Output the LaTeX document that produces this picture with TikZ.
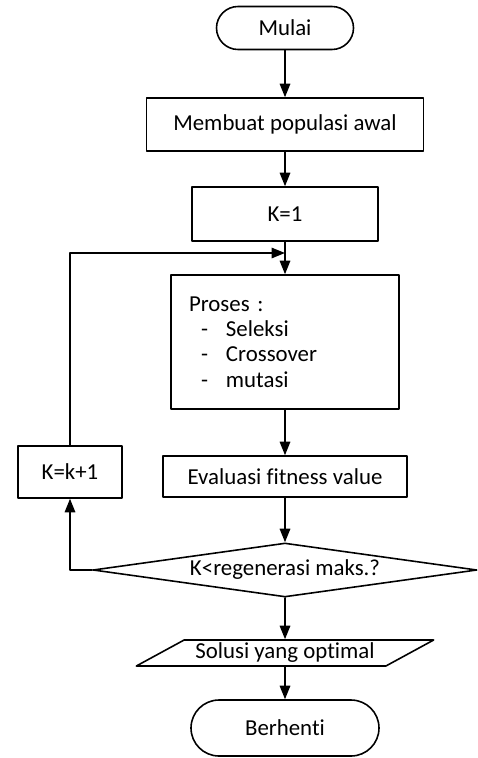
\documentclass[tikz,border=0pt]{standalone}
\usepackage{fontspec}
\setmainfont{Carlito}[Ligatures=NoCommon]
\usetikzlibrary{arrows.meta,shapes.geometric}

\begin{document}
\begin{tikzpicture}[line cap=round, line join=round, line width=0.9pt,
	font=\fontsize{13}{14.5}\selectfont,
	panah/.style={-{Triangle[length=0.27cm,width=0.21cm]}},
	kotak/.style={draw, rectangle, inner sep=0pt},
	terminal/.style={draw, rectangle, rounded corners=0.43cm, inner sep=0pt},
	keputusan/.style={draw, diamond, shape aspect=7.1, inner sep=0pt},
	datanya/.style={draw, trapezium, trapezium left angle=25, trapezium right angle=155,
		trapezium stretches=true, inner sep=0pt}]
	
	% Batas gambar (sesuai ukuran gambar asli)
	\useasboundingbox (0,0) rectangle (9.56,-15.16);
	\def\xk{5.70}
	
	% Simpul-simpul utama
	\node[terminal, minimum width=2.74cm, minimum height=0.86cm] (mulai) at (\xk,-0.56) {Mulai};
	\node[kotak, minimum width=5.54cm, minimum height=1.06cm] (awal) at (\xk,-2.49) {Membuat populasi awal};
	\node[kotak, minimum width=3.72cm, minimum height=1.08cm] (k1) at (\xk,-4.28) {K=1};
	\node[kotak, minimum width=4.56cm, minimum height=2.68cm, inner xsep=0.36cm,
		text width=3.84cm, align=left] (proses) at (\xk,-6.84)
		{Proses :\\
		\hspace*{0.24cm}\makebox[0.5cm][l]{-}Seleksi\\
		\hspace*{0.24cm}\makebox[0.5cm][l]{-}Crossover\\
		\hspace*{0.24cm}\makebox[0.5cm][l]{-}mutasi};
	\node[kotak, minimum width=4.88cm, minimum height=0.82cm] (eval) at (\xk,-9.53) {Evaluasi fitness value};
	\node[kotak, minimum width=2.08cm, minimum height=1.04cm] (kinc) at (1.40,-9.44) {K=k+1};
	\node[keputusan, minimum width=7.68cm, minimum height=1.08cm] (cek) at (\xk,-11.40) {K<regenerasi maks.?};
	\node[datanya, minimum width=5.96cm, minimum height=0.52cm] (solusi) at (\xk,-13.06) {Solusi yang optimal};
	\node[terminal, rounded corners=0.56cm, minimum width=3.76cm, minimum height=1.12cm] (henti) at (\xk,-14.56) {Berhenti};
	
	% Titik pertemuan garis ulang
	\coordinate (temu) at (\xk,-5.06);
	
	% Alur utama
	\draw[panah] (mulai) -- (awal);
	\draw[panah] (awal) -- (k1);
	\draw[panah] (k1) -- (proses);
	\draw[panah] (proses) -- (eval);
	\draw[panah] (eval) -- (cek);
	\draw[panah] (cek) -- (solusi);
	\draw[panah] (solusi) -- (henti);
	
	% Perulangan generasi
	\draw[panah] (cek.west) -| (kinc.south);
	\draw[panah] (kinc.north) |- (temu);
	
\end{tikzpicture}
\end{document}
